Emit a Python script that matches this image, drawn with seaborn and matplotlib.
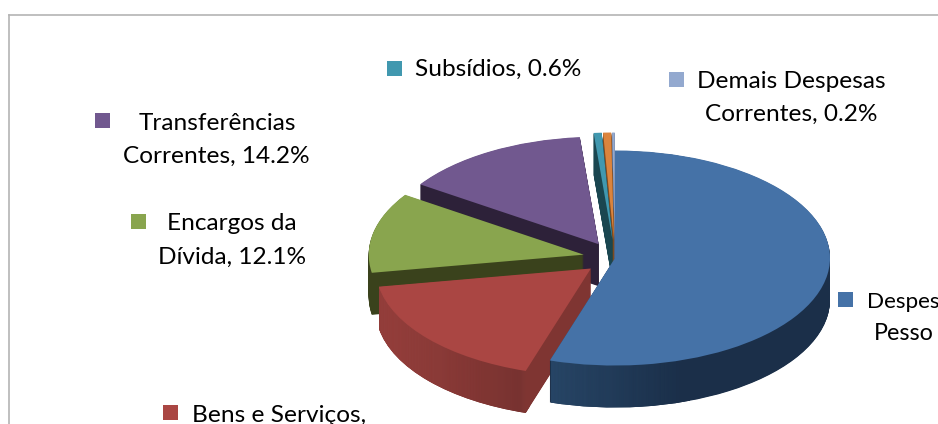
import matplotlib
matplotlib.use('Agg')
from matplotlib import pyplot as plt
from matplotlib.colors import LinearSegmentedColormap
from matplotlib.patches import Rectangle
import numpy as np
import seaborn as sns

categorias = ['Despesas com Pessoal', 'Bens e Serviços', 'Encargos da Dívida', 'Transferências Correntes',
              'Subsídios', 'Outras', 'Demais Despesas Correntes']
valores = [54.9, 17.4, 12.1, 14.2, 0.6, 0.6, 0.2]
cores_topo = ['#4572a7', '#aa4643', '#89a54e', '#71588f', '#4198af', '#db843d', '#93a9cf']
cores_lado = ['#1b2f49', '#7f3532', '#3a421c', '#2d2139', '#1a4650', '#7d4a20', '#55617a']
explosao = [0, 32, 32, 32, 36, 36, 36]
ordem = [4, 3, 2, 1, 0, 0, 0]  # de tras para frente

# rotulos: texto, x, y (pixels), alinhamento, tamanho
rotulos = [
    ('Subsídios, 0.6%', 415, 69, 'left', 17.6),
    ('Demais Despesas', 791, 82, 'center', 17.6),
    ('Correntes, 0.2%', 791, 114, 'center', 17.6),
    ('Transferências', 217, 123, 'center', 17.6),
    ('Correntes, 14.2%', 216, 156, 'center', 17.6),
    ('Encargos da', 232, 224, 'center', 17.6),
    ('Dívida, 12.1%', 232, 257, 'center', 17.6),
    ('Bens e Serviços,', 192, 415, 'left', 17.6),
    ('Despes', 867, 302, 'left', 16.2),
    ('Pesso', 874, 334, 'left', 16.8),
]
chaves = [(387, 61, '#4198af'), (669, 72, '#93a9cf'), (95, 113, '#71588f'),
          (131, 214, '#89a54e'), (163, 405, '#aa4643'), (838, 292, '#4572a7')]

L, A = 938, 424
sns.set_theme(style='white')
plt.rcParams['font.family'] = ['Lato', 'DejaVu Sans']

fig = plt.figure(figsize=(L / 100, A / 100), dpi=100)
ax = fig.add_axes([9 / L, -0.1, 1.1, (A - 15) / A + 0.1])

# eixo y em escala 2:1 para o circulo virar elipse
cx, cy = 615, (A - 258) * 2
raio = 215
altura = 84
passo = 1

# degrade horizontal da lateral do azul e do vermelho
degrades = {
    0: (551, 690, LinearSegmentedColormap.from_list('az', ['#2d4f72', '#1b2f49'])),
    1: (378, 530, LinearSegmentedColormap.from_list('vm', [(0, '#a34643'), (0.93, '#773230'), (1, '#843a37')])),
}
gradiente = np.linspace(0, 1, 256).reshape(1, -1)

for dy in range(altura, 0, -passo):
    fatias, _ = ax.pie(valores, explode=explosao, colors=cores_lado, startangle=90, counterclock=False,
                       radius=raio, center=(cx, cy - dy), wedgeprops={'linewidth': 0})
    for i, (f, o) in enumerate(zip(fatias, ordem)):
        f.set_zorder(o * 1000 + altura - dy)
        if i in degrades:
            x0, x1, mapa = degrades[i]
            im = ax.imshow(gradiente, extent=(x0, x1, -200, 900), cmap=mapa, aspect='auto',
                           zorder=f.get_zorder() + 0.5)
            im.set_clip_path(f)

fatias, _ = ax.pie(valores, explode=explosao, colors=cores_topo, startangle=90, counterclock=False,
                   radius=raio, center=(cx, cy), wedgeprops={'linewidth': 0})
for f, o in zip(fatias, ordem):
    f.set_zorder(o * 1000 + altura)

ax.set_aspect('auto')
ax.set_xlim(9, 9 + 1.1 * L)
topo = (A - 15) * 2
ax.set_ylim(topo - (A - 15 + 0.1 * A) * 2, topo)
ax.set_frame_on(True)
for lado in ['right', 'bottom']:
    ax.spines[lado].set_visible(False)
for lado in ['left', 'top']:
    ax.spines[lado].set_visible(True)
    ax.spines[lado].set_color('#b4b4b4')
    ax.spines[lado].set_linewidth(1.2)

for txt, x, y, al, tam in rotulos:
    fig.text(x / L, 1 - y / A, txt, ha=al, va='center', fontsize=tam, color='black')
for x, y, cor in chaves:
    fig.add_artist(Rectangle((x / L, 1 - (y + 15) / A), 15 / L, 15 / A, transform=fig.transFigure,
                             facecolor=cor, linewidth=0))

fig.savefig('out.png', dpi=100)
